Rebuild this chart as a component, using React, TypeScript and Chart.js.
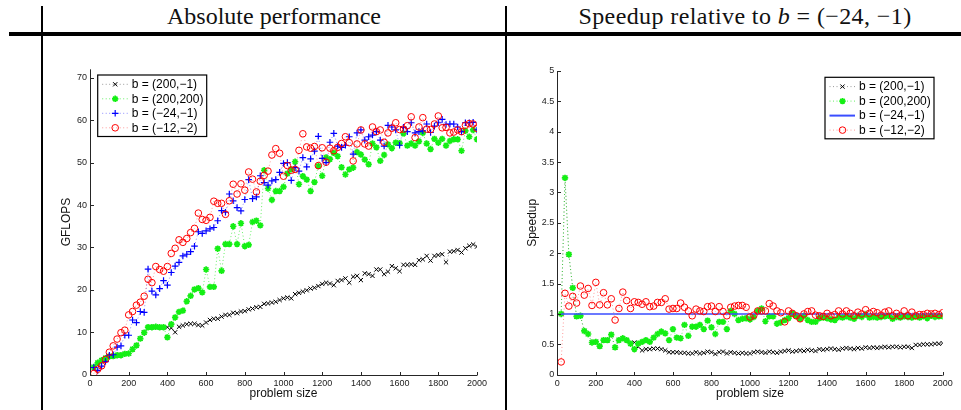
import React, { useEffect, useRef } from 'react';
import { Chart, registerables } from 'chart.js';

Chart.register(...registerables);

// ---------- data ----------
const problemSizes: number[] = Array.from({ length: 100 }, (_, i) => (i + 1) * 20);

const seriesLabels = ['b = (200,\u22121)', 'b = (200,200)', 'b = (\u221224,\u22121)', 'b = (\u221212,\u22122)'];

// Absolute performance (GFLOPS)
const gflopsB200m1 = [
  1.8, 2.8, 3.4, 3.9, 4.3, 4.4, 4.6, 4.6, 4.9, 5.0,
  6.0, 6.9, 8.5, 9.9, 11.2, 11.2, 11.3, 11.2, 11.2, 11.2,
  11.0, 10.0, 11.3, 11.6, 11.9, 12.0, 12.0, 11.7, 11.6, 12.3,
  12.9, 13.2, 13.2, 13.7, 14.1, 14.1, 14.6, 14.5, 14.9, 15.0,
  15.4, 15.6, 15.9, 16.0, 16.7, 16.8, 17.0, 17.2, 17.6, 18.0,
  18.2, 18.0, 19.0, 19.3, 19.6, 19.9, 20.3, 20.5, 20.9, 21.4,
  21.7, 21.5, 21.1, 22.1, 22.3, 22.7, 21.7, 23.1, 23.3, 22.3,
  23.9, 23.7, 23.3, 24.8, 24.8, 23.7, 24.3, 25.6, 25.1, 24.4,
  25.9, 25.9, 26.0, 25.9, 27.0, 27.2, 28.0, 26.9, 28.0, 28.2,
  28.4, 26.5, 29.0, 29.1, 29.4, 28.8, 29.8, 30.4, 30.7, 30.2,
];
const gflopsB200200 = [
  1.8, 2.8, 3.4, 3.9, 4.3, 4.4, 4.6, 4.6, 4.9, 5.0,
  6.0, 6.9, 8.5, 9.9, 11.2, 11.2, 11.3, 11.2, 11.2, 8.8,
  11.9, 13.5, 14.8, 15.1, 17.3, 18.6, 20.1, 20.4, 19.4, 24.8,
  20.7, 20.7, 29.7, 24.5, 30.8, 30.8, 35.0, 30.8, 35.7, 30.3,
  30.6, 36.0, 36.3, 35.2, 48.2, 43.9, 41.2, 43.3, 43.3, 44.3,
  47.4, 48.4, 50.2, 44.9, 46.8, 46.0, 43.3, 45.4, 49.2, 46.9,
  51.2, 50.8, 52.3, 51.5, 48.9, 47.2, 48.4, 48.8, 52.5, 51.9,
  50.7, 49.6, 54.5, 53.6, 50.4, 51.8, 54.3, 53.4, 54.7, 54.6,
  56.9, 54.0, 54.5, 54.0, 55.0, 57.0, 54.5, 53.2, 55.6, 54.7,
  55.6, 54.0, 55.1, 55.5, 55.5, 52.8, 57.5, 56.1, 57.7, 55.5,
];
const gflopsBm24m1 = [
  1.7, 1.0, 2.0, 3.1, 4.6, 4.7, 6.5, 6.8, 9.3, 9.3,
  12.9, 12.3, 14.9, 14.7, 24.9, 19.7, 18.8, 20.3, 22.2, 21.1,
  24.1, 25.6, 26.5, 28.0, 28.4, 29.0, 30.3, 33.7, 33.3, 33.9,
  34.4, 34.7, 36.3, 38.7, 38.3, 42.6, 41.0, 39.4, 38.6, 41.3,
  46.0, 41.5, 41.9, 46.9, 45.3, 44.7, 45.7, 46.0, 47.7, 49.8,
  50.0, 45.8, 48.8, 48.0, 51.2, 49.0, 50.9, 52.7, 56.2, 51.0,
  50.0, 54.8, 56.9, 53.9, 53.6, 54.1, 56.1, 52.0, 57.0, 57.7,
  55.3, 56.1, 56.5, 57.3, 55.3, 53.9, 58.8, 58.4, 57.7, 54.1,
  58.3, 57.3, 59.4, 57.0, 57.3, 57.5, 59.1, 57.1, 58.6, 59.4,
  60.2, 59.0, 59.1, 59.1, 58.4, 57.3, 59.4, 59.4, 59.5, 57.7,
];
const gflopsBm12m2 = [
  0.3, 1.3, 2.1, 3.6, 5.3, 6.8, 8.4, 9.9, 10.5, 14.1,
  14.9, 16.4, 17.1, 18.5, 22.5, 21.7, 25.5, 24.8, 24.4, 25.5,
  28.6, 29.8, 31.8, 31.2, 32.1, 33.5, 34.5, 38.1, 36.6, 36.4,
  37.1, 40.9, 40.4, 40.4, 37.8, 41.0, 44.9, 42.6, 45.0, 43.5,
  47.8, 46.1, 43.1, 45.6, 47.0, 48.0, 51.8, 53.3, 52.2, 46.8,
  49.3, 48.2, 48.4, 52.9, 56.8, 53.7, 53.4, 53.8, 49.3, 53.5,
  50.1, 53.4, 52.8, 53.6, 54.5, 56.1, 54.7, 50.4, 54.4, 57.7,
  54.4, 53.9, 58.4, 57.3, 57.7, 54.8, 57.0, 58.1, 59.4, 57.8,
  57.9, 58.7, 60.8, 55.9, 58.4, 60.6, 57.9, 57.8, 59.1, 61.0,
  58.2, 58.3, 57.0, 57.2, 57.7, 57.3, 58.8, 59.2, 59.1, 58.1,
];

// Speedup relative to b = (-24,-1)
const speedupB200m1 = [
  1.00, 3.24, 1.98, 1.43, 0.96, 0.97, 0.72, 0.67, 0.53, 0.54,
  0.47, 0.57, 0.57, 0.66, 0.45, 0.57, 0.60, 0.57, 0.51, 0.53,
  0.46, 0.40, 0.42, 0.42, 0.43, 0.43, 0.42, 0.40, 0.37, 0.37,
  0.37, 0.36, 0.36, 0.35, 0.35, 0.37, 0.35, 0.36, 0.38, 0.37,
  0.34, 0.37, 0.38, 0.35, 0.37, 0.36, 0.35, 0.36, 0.35, 0.35,
  0.37, 0.38, 0.37, 0.36, 0.38, 0.37, 0.36, 0.38, 0.39, 0.40,
  0.38, 0.39, 0.40, 0.39, 0.41, 0.40, 0.39, 0.42, 0.41, 0.42,
  0.43, 0.42, 0.41, 0.43, 0.44, 0.43, 0.42, 0.44, 0.43, 0.45,
  0.44, 0.45, 0.44, 0.45, 0.46, 0.45, 0.46, 0.46, 0.45, 0.46,
  0.46, 0.44, 0.49, 0.49, 0.50, 0.50, 0.50, 0.51, 0.51, 0.52,
];
const speedupB200200 = [
  1.00, 3.24, 1.98, 1.43, 0.96, 0.97, 0.72, 0.67, 0.53, 0.54,
  0.47, 0.57, 0.57, 0.66, 0.45, 0.57, 0.60, 0.57, 0.51, 0.42,
  0.51, 0.54, 0.57, 0.54, 0.61, 0.67, 0.71, 0.68, 0.57, 0.75,
  0.61, 0.60, 0.82, 0.64, 0.79, 0.79, 0.82, 0.75, 0.89, 0.78,
  0.67, 0.87, 0.87, 0.75, 1.05, 1.00, 0.90, 0.92, 0.93, 0.91,
  0.95, 1.05, 1.09, 0.88, 0.96, 0.96, 0.84, 0.86, 0.90, 0.93,
  1.01, 0.97, 0.92, 0.97, 0.90, 0.87, 0.87, 0.93, 0.94, 0.93,
  0.91, 0.90, 0.95, 0.94, 0.96, 0.94, 0.92, 0.97, 0.95, 0.99,
  0.94, 0.95, 0.94, 0.95, 0.96, 0.97, 0.92, 0.95, 0.94, 0.96,
  0.95, 0.94, 0.96, 0.94, 0.96, 0.93, 0.97, 0.95, 0.96, 0.96,
];
const baselineSizes = [20, 2000];
const speedupBm24m1 = [1, 1];
const speedupBm12m2 = [
  0.21, 1.34, 1.13, 1.29, 1.18, 1.46, 1.31, 1.42, 1.14, 1.52,
  1.15, 1.35, 1.15, 1.25, 0.90, 1.09, 1.36, 1.22, 1.09, 1.20,
  1.19, 1.16, 1.20, 1.12, 1.13, 1.19, 1.19, 1.25, 1.08, 1.09,
  1.09, 1.18, 1.11, 1.05, 0.97, 1.08, 1.05, 1.04, 1.12, 1.13,
  1.04, 1.12, 1.04, 0.97, 1.11, 1.13, 1.14, 1.14, 1.11, 0.95,
  0.98, 1.05, 1.05, 1.05, 1.17, 1.13, 1.05, 1.02, 0.87, 1.05,
  1.01, 0.97, 0.92, 1.00, 1.04, 1.05, 0.98, 0.97, 0.96, 1.01,
  0.97, 0.99, 1.05, 1.00, 1.05, 1.01, 0.97, 1.03, 1.00, 1.07,
  1.01, 1.04, 1.02, 0.98, 1.03, 1.05, 0.97, 1.01, 0.97, 1.05,
  0.97, 1.03, 0.97, 0.99, 0.99, 1.01, 1.00, 1.01, 0.99, 1.02,
];

// ---------- styles ----------
type Marker = 'crossRot' | 'star' | 'cross' | 'circle' | 'none';
type SeriesStyle = { marker: Marker; color: string; lineColor: string; radius: number; width: number; solid?: boolean };

const blackStyle: SeriesStyle = { marker: 'crossRot', color: '#000000', lineColor: 'rgba(0,0,0,0.4)', radius: 3.0, width: 1 };
const greenStyle: SeriesStyle = { marker: 'star', color: '#14ef14', lineColor: 'rgba(0,230,0,0.6)', radius: 3.2, width: 1.7 };
const blueStyle: SeriesStyle = { marker: 'cross', color: '#0000ff', lineColor: 'rgba(0,0,255,0.45)', radius: 3.3, width: 1.2 };
const redStyle: SeriesStyle = { marker: 'circle', color: '#ff0000', lineColor: 'rgba(255,0,0,0.4)', radius: 3.3, width: 1 };
const blueSolidStyle: SeriesStyle = { marker: 'none', color: '#3a4dff', lineColor: '#3a4dff', radius: 0, width: 1.6, solid: true };

const FONT = '"Liberation Sans", Arial, Helvetica, sans-serif';

function drawMarker(ctx: CanvasRenderingContext2D, st: SeriesStyle, x: number, y: number) {
  const r = st.radius;
  ctx.save();
  ctx.strokeStyle = st.color;
  ctx.lineWidth = st.width;
  ctx.beginPath();
  if (st.marker === 'crossRot' || st.marker === 'star') {
    const d = r * Math.SQRT1_2;
    ctx.moveTo(x - d, y - d); ctx.lineTo(x + d, y + d);
    ctx.moveTo(x - d, y + d); ctx.lineTo(x + d, y - d);
  }
  if (st.marker === 'cross' || st.marker === 'star') {
    ctx.moveTo(x - r, y); ctx.lineTo(x + r, y);
    ctx.moveTo(x, y - r); ctx.lineTo(x, y + r);
  }
  if (st.marker === 'circle') {
    ctx.arc(x, y, r, 0, Math.PI * 2);
  }
  ctx.stroke();
  ctx.restore();
}

function makeDataset(label: string, xs: number[], ys: number[], st: SeriesStyle, order: number) {
  return {
    label,
    data: xs.map((x, i) => ({ x, y: ys[i] })),
    showLine: true,
    fill: false,
    borderColor: st.lineColor,
    borderWidth: st.solid ? st.width : 1,
    borderDash: st.solid ? [] : [1, 2.5],
    pointStyle: st.marker === 'none' ? 'circle' : st.marker,
    pointRadius: st.marker === 'none' ? 0 : st.radius,
    pointBorderColor: st.color,
    pointBackgroundColor: st.marker === 'circle' ? 'rgba(0,0,0,0)' : st.color,
    pointBorderWidth: st.width,
    order,
  };
}

type LegendSpec = { anchor: 'left' | 'right'; dx: number; dy: number; styles: SeriesStyle[] };

function figurePlugin(id: string, legend: LegendSpec) {
  return {
    id,
    afterDraw(chart: any) {
      const { ctx, chartArea: a, scales } = chart;
      ctx.save();
      const L = Math.round(a.left) + 0.5;
      const B = Math.round(a.bottom) + 0.5;
      ctx.strokeStyle = '#262626';
      ctx.lineWidth = 1;
      ctx.setLineDash([]);
      ctx.beginPath();
      ctx.moveTo(L, a.top);
      ctx.lineTo(L, B);
      ctx.lineTo(a.right, B);
      scales.x.ticks.forEach((t: any) => {
        const px = Math.round(scales.x.getPixelForValue(t.value)) + 0.5;
        ctx.moveTo(px, B);
        ctx.lineTo(px, B - 3.5);
      });
      scales.y.ticks.forEach((t: any) => {
        const py = Math.round(scales.y.getPixelForValue(t.value)) + 0.5;
        ctx.moveTo(L, py);
        ctx.lineTo(L + 3.5, py);
      });
      ctx.stroke();

      // legend
      const w = 109;
      const h = 61.5;
      const lx = legend.anchor === 'left' ? a.left + legend.dx : a.right - legend.dx - w;
      const ly = a.top + legend.dy;
      ctx.fillStyle = '#ffffff';
      ctx.fillRect(lx, ly, w, h);
      ctx.strokeStyle = '#000000';
      ctx.lineWidth = 1.2;
      ctx.strokeRect(lx, ly, w, h);
      ctx.font = `12px ${FONT}`;
      ctx.textBaseline = 'middle';
      ctx.textAlign = 'left';
      legend.styles.forEach((st, i) => {
        const y = ly + 9.3 + i * 14.5;
        ctx.save();
        ctx.strokeStyle = st.lineColor;
        ctx.lineWidth = st.solid ? 2 : 1;
        ctx.setLineDash(st.solid ? [] : [1, 2.5]);
        ctx.beginPath();
        ctx.moveTo(lx + 4.5, y);
        ctx.lineTo(lx + 30, y);
        ctx.stroke();
        ctx.restore();
        if (st.marker !== 'none') drawMarker(ctx, st, lx + 17.5, y);
        ctx.fillStyle = '#000000';
        ctx.fillText(seriesLabels[i], lx + 34, y + 0.5);
      });
      ctx.restore();
    },
  };
}

type Layout = { padLeft: number; yWidth: number; padTop: number; padRight: number; padBottom: number; xHeight: number };

function buildOptions(yMax: number, yStep: number, yTitle: string, lay: Layout) {
  const tickFont = { size: 9, family: FONT };
  return {
    responsive: false,
    animation: false as const,
    events: [] as any[],
    layout: { padding: { left: lay.padLeft, right: lay.padRight, top: lay.padTop, bottom: lay.padBottom } },
    plugins: { legend: { display: false }, tooltip: { enabled: false }, title: { display: false } },
    scales: {
      x: {
        type: 'linear' as const,
        min: 0,
        max: 2000,
        grid: { display: false, drawTicks: false },
        border: { display: false },
        ticks: { stepSize: 200, color: '#222', font: tickFont, padding: 3, maxRotation: 0, autoSkip: false, callback: (v: any) => String(v) },
        title: { display: true, text: 'problem size', color: '#111', font: { size: 12, family: FONT }, padding: 0 },
        afterFit: (s: any) => { s.height = lay.xHeight; },
      },
      y: {
        type: 'linear' as const,
        min: 0,
        max: yMax,
        grid: { display: false, drawTicks: false },
        border: { display: false },
        ticks: { stepSize: yStep, includeBounds: false, color: '#222', font: tickFont, padding: 3, autoSkip: false, callback: (v: any) => String(v) },
        title: { display: true, text: yTitle, color: '#111', font: { size: 12, family: FONT }, padding: 0 },
        afterFit: (s: any) => { s.width = lay.yWidth; },
      },
    },
  };
}

function ChartCanvas({ make, width, height, left, top }: { make: () => any; width: number; height: number; left: number; top: number }) {
  const ref = useRef<HTMLCanvasElement | null>(null);
  useEffect(() => {
    if (!ref.current) return;
    const chart = new Chart(ref.current, make());
    return () => chart.destroy();
  }, []);
  return (
    <canvas
      ref={ref}
      width={width}
      height={height}
      style={{ position: 'absolute', left, top, width, height }}
    />
  );
}

function makeLeftChart() {
  return {
    type: 'scatter',
    data: {
      datasets: [
        makeDataset(seriesLabels[0], problemSizes, gflopsB200m1, blackStyle, 3),
        makeDataset(seriesLabels[1], problemSizes, gflopsB200200, greenStyle, 2),
        makeDataset(seriesLabels[2], problemSizes, gflopsBm24m1, blueStyle, 1),
        makeDataset(seriesLabels[3], problemSizes, gflopsBm12m2, redStyle, 0),
      ],
    },
    options: buildOptions(72, 10, 'GFLOPS', { padLeft: 15.5, yWidth: 30.5, padTop: 29.3, padRight: 27, padBottom: 8.8, xHeight: 26.5 }),
    plugins: [figurePlugin('leftFigure', { anchor: 'left', dx: 7.7, dy: 5.7, styles: [blackStyle, greenStyle, blueStyle, redStyle] })],
  };
}

function makeRightChart() {
  return {
    type: 'scatter',
    data: {
      datasets: [
        makeDataset(seriesLabels[0], problemSizes, speedupB200m1, blackStyle, 3),
        makeDataset(seriesLabels[1], problemSizes, speedupB200200, greenStyle, 2),
        makeDataset(seriesLabels[2], baselineSizes, speedupBm24m1, blueSolidStyle, 1),
        makeDataset(seriesLabels[3], problemSizes, speedupBm12m2, redStyle, 0),
      ],
    },
    options: buildOptions(5, 0.5, 'Speedup', { padLeft: 17, yWidth: 32.3, padTop: 31, padRight: 18.3, padBottom: 8.8, xHeight: 26.5 }),
    plugins: [figurePlugin('rightFigure', { anchor: 'right', dx: 8.7, dy: 6.3, styles: [blackStyle, greenStyle, blueSolidStyle, redStyle] })],
  };
}

export default function App() {
  const serif = '"Liberation Serif", "Times New Roman", serif';
  return (
    <div style={{ position: 'fixed', left: 0, top: 0, width: 961, height: 410, background: '#fff', overflow: 'hidden' }}>
      <div style={{ position: 'absolute', left: 41, top: 6, width: 2, height: 404, background: '#000' }} />
      <div style={{ position: 'absolute', left: 505, top: 6, width: 2, height: 404, background: '#000' }} />
      <div style={{ position: 'absolute', left: 9, top: 32, width: 952, height: 4, background: '#000' }} />
      <div style={{ position: 'absolute', left: 43, top: 3, width: 462, textAlign: 'center', fontFamily: serif, fontSize: 24, lineHeight: '26px', color: '#111', whiteSpace: 'nowrap' }}>
        Absolute performance
      </div>
      <div style={{ position: 'absolute', left: 745, top: 3, transform: 'translateX(-50%)', fontFamily: serif, fontSize: 24, lineHeight: '26px', letterSpacing: '0.4px', color: '#111', whiteSpace: 'nowrap' }}>
        Speedup relative to <i>b</i> = (&minus;24, &minus;1)
      </div>
      <ChartCanvas make={makeLeftChart} width={460} height={370} left={44} top={40} />
      <ChartCanvas make={makeRightChart} width={453} height={370} left={508} top={40} />
    </div>
  );
}
